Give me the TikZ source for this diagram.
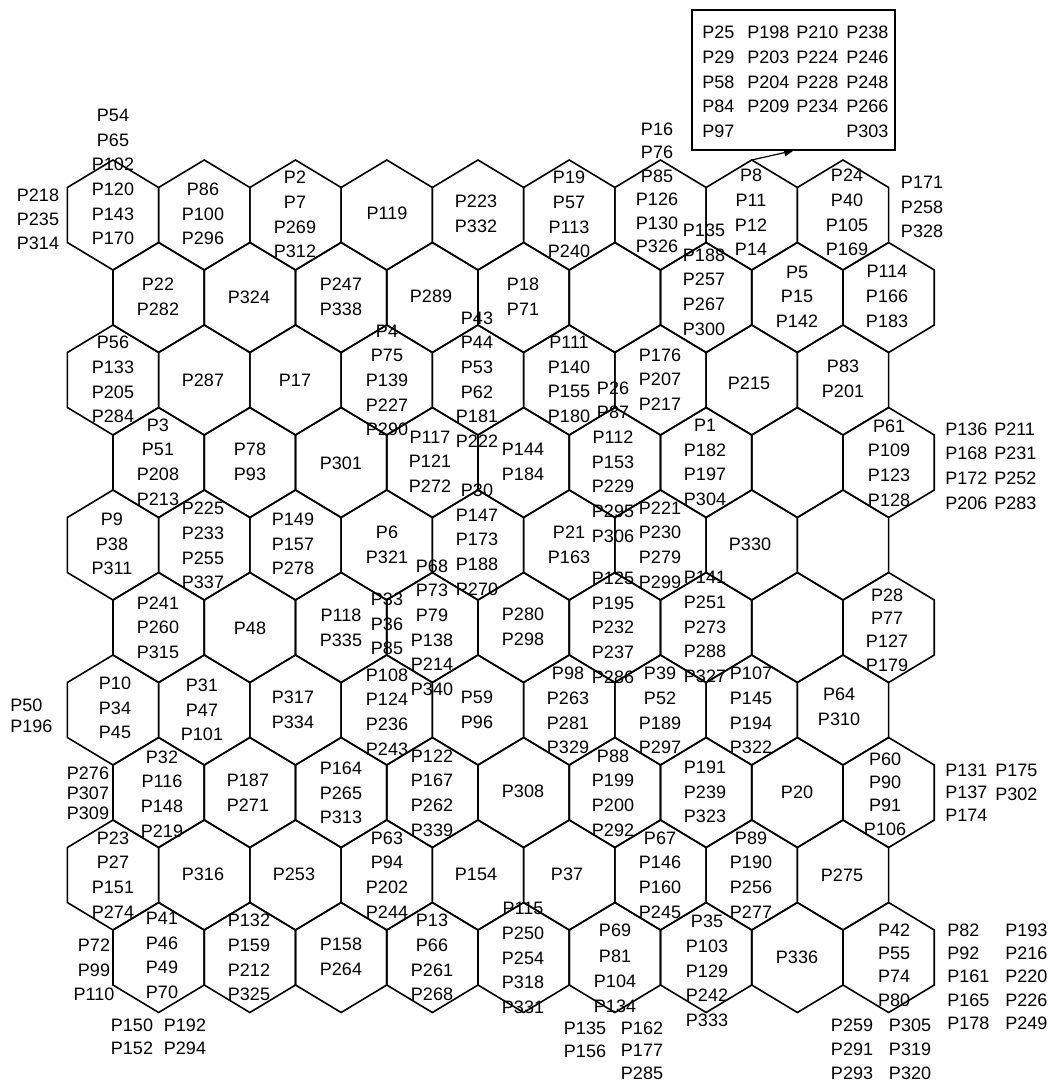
\documentclass[tikz,border=0pt]{standalone}
\usepackage{fontspec}
\setmainfont{Liberation Sans}
\usetikzlibrary{arrows.meta}
\tikzset{
  lbl/.style={inner sep=0pt, align=center, font=\fontsize{13.5}{18.5}\selectfont},
  lbll/.style={inner sep=0pt, align=left, anchor=west, font=\fontsize{13.5}{18.5}\selectfont},
  ls/.style={font=\fontsize{13.5}{#1}\selectfont},
  hexline/.style={line width=1.2pt, line join=miter},
  boxline/.style={draw, line width=0.9pt, inner sep=0pt, minimum width=152.25pt, minimum height=105pt},
  arrowline/.style={line width=0.9pt, -{Triangle[length=7pt,width=5.5pt]}}
}
\begin{document}
\begin{tikzpicture}[x=0.75pt,y=-0.75pt]
\useasboundingbox (0,0) rectangle (1050,1084);
\fill[white] (0,0) rectangle (1050,1084);
% hexagon grid
\foreach \r in {0,...,9}{
  \pgfmathsetmacro\cy{215+82.5*\r}
  \pgfmathsetmacro\off{mod(\r,2)*45.625}
  \foreach \k in {0,...,8}{
    \pgfmathsetmacro\cx{113+\off+91.25*\k}
    \draw[hexline] (\cx,\cy-55) -- (\cx+45.625,\cy-27.5) -- (\cx+45.625,\cy+27.5)
      -- (\cx,\cy+55) -- (\cx-45.625,\cy+27.5) -- (\cx-45.625,\cy-27.5) -- cycle;
  }
}
% box
\node[boxline] (box) at (793.5,80) {};
\node[lbll] (b1) at (702,82) {P25\\P29\\P58\\P84\\P97};
\node[lbll] (b2) at (747,69.5) {P198\\P203\\P204\\P209};
\node[lbll] (b3) at (796,69.5) {P210\\P224\\P228\\P234};
\node[lbll] (b4) at (846,82) {P238\\P246\\P248\\P266\\P303};
\coordinate (p8top) at (751.75,160);
\draw[arrowline] (p8top) -- (box.south);
% row 1
\node[lbl] (n1) at (113,177) {P54\\P65\\P102\\P120\\P143\\P170};
\node[lbl,ls=18] (n2) at (38,219) {P218\\P235\\P314};
\node[lbl] (n3) at (203,214) {P86\\P100\\P296};
\node[lbl] (n4) at (295,214.5) {P2\\P7\\P269\\P312};
\node[lbl] (n5) at (387,213) {P119};
\node[lbl] (n6) at (476,214) {P223\\P332};
\node[lbl] (n7) at (569,214.5) {P19\\P57\\P113\\P240};
\node[lbl,ls=17.6] (n8) at (657,188) {P16\\P76\\P85\\P126\\P130\\P326};
\node[lbl] (n9) at (751,212.5) {P8\\P11\\P12\\P14};
\node[lbl] (n10) at (847,212.5) {P24\\P40\\P105\\P169};
\node[lbl] (n11) at (922,207) {P171\\P258\\P328};
% row 2
\node[lbl] (n12) at (158,297) {P22\\P282};
\node[lbl] (n13) at (249,297) {P324};
\node[lbl] (n14) at (341,297) {P247\\P338};
\node[lbl] (n15) at (431,296) {P289};
\node[lbl] (n16) at (523,297) {P18\\P71};
\node[lbl] (n17) at (704,279.5) {P135\\P188\\P257\\P267\\P300};
\node[lbl] (n18) at (797,296.5) {P5\\P15\\P142};
\node[lbl] (n19) at (887,296.5) {P114\\P166\\P183};
% row 3
\node[lbl] (n20) at (113,379.5) {P56\\P133\\P205\\P284};
\node[lbl] (n21) at (203,380) {P287};
\node[lbl] (n22) at (295,380) {P17};
\node[lbl] (n23) at (387,380.5) {P4\\P75\\P139\\P227\\P290};
\node[lbl] (n24) at (477,379.5) {P43\\P44\\P53\\P62\\P181\\P222};
\node[lbl] (n25) at (569,379.5) {P111\\P140\\P155\\P180};
\node[lbl] (n26) at (660,379.5) {P176\\P207\\P217};
\node[lbl] (n27) at (749,383) {P215};
\node[lbl] (n28) at (843,379) {P83\\P201};
% row 4
\node[lbl] (n29) at (158,462) {P3\\P51\\P208\\P213};
\node[lbl] (n30) at (250,461.5) {P78\\P93};
\node[lbl] (n31) at (341,463) {P301};
\node[lbl] (n32) at (430,461.5) {P117\\P121\\P272};
\node[lbl] (n33) at (523,462) {P144\\P184};
\node[lbl] (n34) at (613,462) {P26\\P87\\P112\\P153\\P229\\P295\\P306};
\node[lbl] (n35) at (705,462.5) {P1\\P182\\P197\\P304};
\node[lbl] (n36) at (889,463) {P61\\P109\\P123\\P128};
\node[lbll] (n37) at (945,466) {P136\\P168\\P172\\P206};
\node[lbll] (n38) at (994,466) {P211\\P231\\P252\\P283};
% row 5
\node[lbl] (n39) at (112,544) {P9\\P38\\P311};
\node[lbl] (n40) at (203,545.5) {P225\\P233\\P255\\P337};
\node[lbl] (n41) at (293,544) {P149\\P157\\P278};
\node[lbl] (n42) at (387,545) {P6\\P321};
\node[lbl] (n43) at (477,539.5) {P30\\P147\\P173\\P188\\P270};
\node[lbl] (n44) at (569,544.5) {P21\\P163};
\node[lbl] (n45) at (660,545) {P221\\P230\\P279\\P299};
\node[lbl] (n46) at (750,544) {P330};
% row 6
\node[lbl] (n47) at (158,627.5) {P241\\P260\\P315};
\node[lbl] (n48) at (250,628) {P48};
\node[lbl] (n49) at (341,627.5) {P118\\P335};
\node[lbl] (n50) at (387,624) {P33\\P36\\P85};
\node[lbl] (n51) at (432,627.5) {P68\\P73\\P79\\P138\\P214\\P340};
\node[lbl] (n52) at (523,627) {P280\\P298};
\node[lbl] (n53) at (613,627.5) {P125\\P195\\P232\\P237\\P286};
\node[lbl] (n54) at (705,627) {P141\\P251\\P273\\P288\\P327};
\node[lbl,ls=17.5] (n55) at (887,630) {P28\\P77\\P127\\P179};
% row 7
\node[lbll,ls=16] (n56) at (10,715.5) {P50\\P196};
\node[lbl] (n57) at (115,708) {P10\\P34\\P45};
\node[lbl] (n58) at (202,710) {P31\\P47\\P101};
\node[lbl] (n59) at (293,710) {P317\\P334};
\node[lbl] (n60) at (387,712) {P108\\P124\\P236\\P243};
\node[lbl] (n61) at (477,710) {P59\\P96};
\node[lbl] (n62) at (568,710.5) {P98\\P263\\P281\\P329};
\node[lbl] (n63) at (660,710.5) {P39\\P52\\P189\\P297};
\node[lbl] (n64) at (751,710.5) {P107\\P145\\P194\\P322};
\node[lbl] (n65) at (839,707) {P64\\P310};
% row 8
\node[lbl,ls=15] (n66) at (88,793) {P276\\P307\\P309};
\node[lbl] (n67) at (162,794) {P32\\P116\\P148\\P219};
\node[lbl] (n68) at (248,792.5) {P187\\P271};
\node[lbl] (n69) at (341,793) {P164\\P265\\P313};
\node[lbl] (n70) at (432,793) {P122\\P167\\P262\\P339};
\node[lbl] (n71) at (523,791) {P308};
\node[lbl] (n72) at (613,793) {P88\\P199\\P200\\P292};
\node[lbl] (n73) at (705,792) {P191\\P239\\P323};
\node[lbl] (n74) at (797,792) {P20};
\node[lbl,ls=17.5] (n75) at (885,794) {P60\\P90\\P91\\P106};
\node[lbll,ls=17] (n76) at (945,792.5) {P131\\P137\\P174};
\node[lbll] (n77) at (995,782.5) {P175\\P302};
% row 9
\node[lbl] (n78) at (113,875) {P23\\P27\\P151\\P274};
\node[lbl] (n79) at (203,874) {P316};
\node[lbl] (n80) at (294,874) {P253};
\node[lbl] (n81) at (387,875) {P63\\P94\\P202\\P244};
\node[lbl] (n82) at (476,874) {P154};
\node[lbl] (n83) at (567,874) {P37};
\node[lbl] (n84) at (660,875) {P67\\P146\\P160\\P245};
\node[lbl] (n85) at (751,875) {P89\\P190\\P256\\P277};
\node[lbl] (n86) at (842,875) {P275};
% row 10
\node[lbl] (n87) at (94,970) {P72\\P99\\P110};
\node[lbl] (n88) at (162,955.5) {P41\\P46\\P49\\P70};
\node[lbl,ls=17.5] (n89) at (132,1036.5) {P150\\P152};
\node[lbl,ls=17.5] (n90) at (185,1036.5) {P192\\P294};
\node[lbl] (n91) at (249,957.5) {P132\\P159\\P212\\P325};
\node[lbl] (n92) at (341,957) {P158\\P264};
\node[lbl] (n93) at (432,957.5) {P13\\P66\\P261\\P268};
\node[lbl] (n94) at (523,958) {P115\\P250\\P254\\P318\\P331};
\node[lbl,ls=19] (n95) at (615,968.5) {P69\\P81\\P104\\P134};
\node[lbl,ls=17.5] (n96) at (585,1039.5) {P135\\P156};
\node[lbl,ls=17] (n97) at (642,1050.5) {P162\\P177\\P285};
\node[lbl] (n98) at (707,971) {P35\\P103\\P129\\P242\\P333};
\node[lbl] (n99) at (797,957) {P336};
\node[lbl,ls=17.5] (n100) at (894,965) {P42\\P55\\P74\\P80};
\node[lbl,ls=18] (n101) at (852,1049) {P259\\P291\\P293};
\node[lbl,ls=18] (n102) at (910,1049) {P305\\P319\\P320};
\node[lbll,ls=17.5] (n103) at (947,976.5) {P82\\P92\\P161\\P165\\P178};
\node[lbll,ls=17.5] (n104) at (1005,976.5) {P193\\P216\\P220\\P226\\P249};
\end{tikzpicture}
\end{document}
